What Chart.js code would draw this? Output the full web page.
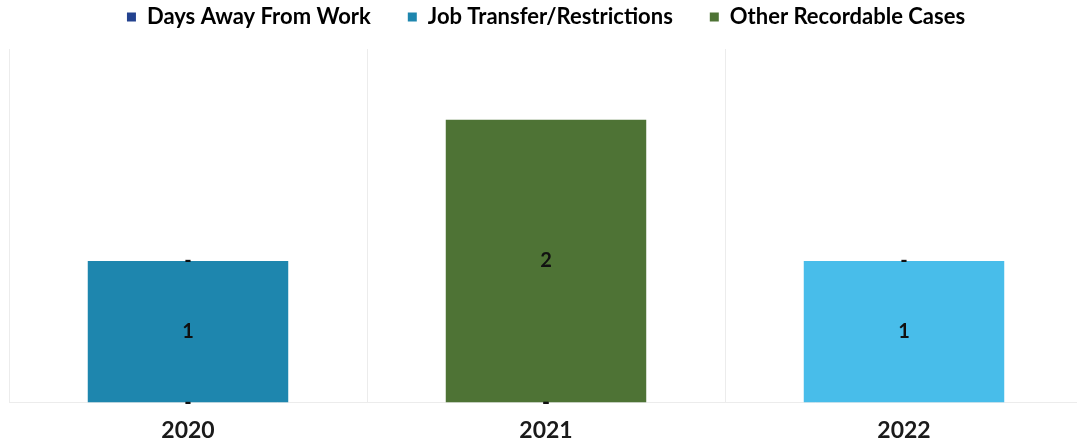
<!DOCTYPE html>
<html>
<head>
<meta charset="utf-8">
<script src="https://cdn.jsdelivr.net/npm/chart.js@4.4.1/dist/chart.umd.min.js"></script>
<style>
  html, body { margin: 0; padding: 0; background: #fff; overflow: hidden; }
  #wrap { width: 1083px; height: 444px; position: relative; }
</style>
</head>
<body>
<div id="wrap"><canvas id="chart"></canvas></div>
<script>
const years = ["2020", "2021", "2022"];
const daysAway = [0, 0, null];
const jobTransfer = [1, 0, 1];
const otherCases = [0, 2, 0];
const seriesColors = ["#23428F", "#1E86AE", "#4E7335"];
const jobTransferColors = ["#1E86AE", "#1E86AE", "#48BDEA"];

// value labels in the middle of each segment, "-" for zero
const segmentLabels = {
  id: "segmentLabels",
  afterDatasetsDraw(chart) {
    const ctx = chart.ctx;
    ctx.save();
    ctx.font = "bold 20px Lato";
    ctx.fillStyle = "#111";
    ctx.textAlign = "center";
    ctx.textBaseline = "middle";
    chart.data.datasets.forEach((ds, i) => {
      const meta = chart.getDatasetMeta(i);
      meta.data.forEach((bar, j) => {
        const v = ds.data[j];
        if (v === null || v === undefined) return;
        const y = (bar.y + bar.base) / 2;
        ctx.fillText(v === 0 ? "-" : String(v), bar.x, y);
      });
    });
    ctx.restore();
  }
};

// extra room under the legend
const legendGap = {
  id: "legendGap",
  beforeInit(chart) {
    const fit = chart.legend.fit;
    chart.legend.fit = function () {
      fit.bind(chart.legend)();
      this.height += 11;
    };
  }
};

new Chart(document.getElementById("chart"), {
  type: "bar",
  data: {
    labels: years,
    datasets: [
      { label: "Days Away From Work", data: daysAway, backgroundColor: seriesColors[0] },
      { label: "Job Transfer/Restrictions", data: jobTransfer, backgroundColor: jobTransferColors },
      { label: "Other Recordable Cases", data: otherCases, backgroundColor: seriesColors[2] }
    ]
  },
  options: {
    responsive: true,
    maintainAspectRatio: false,
    animation: false,
    layout: { padding: { left: 9, top: -31, bottom: -14, right: 0 } },
    datasets: { bar: { categoryPercentage: 1, barPercentage: 0.56 } },
    plugins: {
      legend: {
        position: "top",
        labels: {
          boxWidth: 9,
          boxHeight: 9,
          padding: 37,
          color: "#111",
          font: { family: "Lato", size: 22, weight: "bold" },
          generateLabels(chart) {
            return chart.data.datasets.map((ds, i) => ({
              text: ds.label,
              fillStyle: seriesColors[i],
              strokeStyle: seriesColors[i],
              lineWidth: 0,
              hidden: false,
              datasetIndex: i
            }));
          }
        }
      },
      tooltip: { enabled: false }
    },
    scales: {
      x: {
        stacked: true,
        grid: { offset: true, color: "#ececec", drawTicks: false },
        border: { color: "#ececec" },
        ticks: {
          color: "#1a1a1a",
          padding: 14,
          font: { family: "Lato", size: 23, weight: "bold" }
        }
      },
      y: {
        stacked: true,
        display: false,
        min: 0,
        max: 2.5
      }
    }
  },
  plugins: [segmentLabels, legendGap]
});
</script>
</body>
</html>
